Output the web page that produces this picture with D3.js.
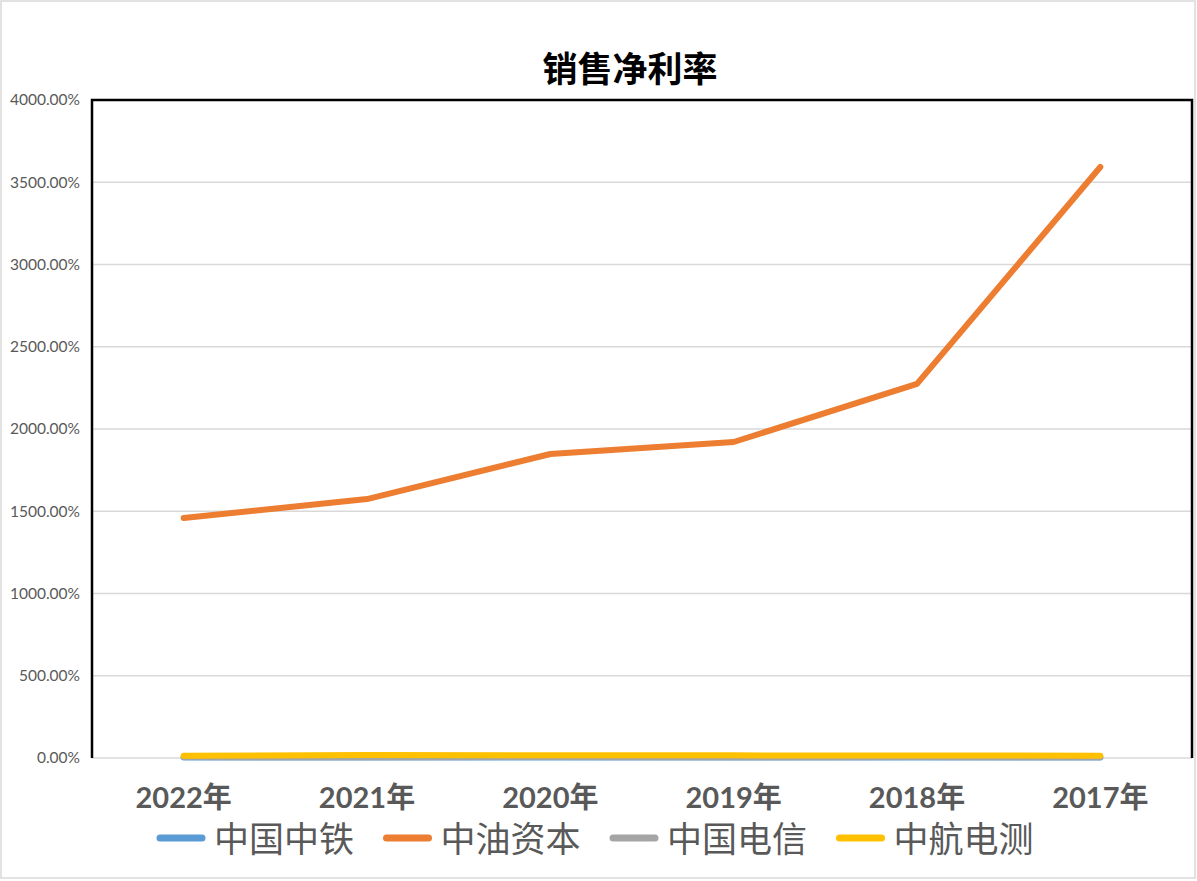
<!DOCTYPE html>
<html><head><meta charset="utf-8">
<script src="https://cdn.jsdelivr.net/npm/d3@7/dist/d3.min.js"></script>
<style>body{margin:0;background:#fff;}svg{display:block;}</style>
</head><body>
<svg id="c" width="1197" height="881"></svg>
<script>
const categories = ["2022年","2021年","2020年","2019年","2018年","2017年"];
const seriesNames = ["中国中铁","中油资本","中国电信","中航电测"];
const crcc = [2.8, 2.9, 2.9, 2.9, 2.7, 2.5];
const cnpcCap = [1459, 1574, 1848, 1921, 2274, 3593];
const chinaTel = [5.5, 4.8, 5.9, 5.3, 5.4, 5.2];
const avic = [13, 18, 17, 16, 15, 14];
const colors = ["#5b9bd5","#ed7d31","#a5a5a5","#ffc000"];
const yTicks = [0,500,1000,1500,2000,2500,3000,3500,4000];
const title = "销售净利率";

const series = [crcc, cnpcCap, chinaTel, avic];
const svg = d3.select("#c");
const L = 92, R = 1192, T = 100, B = 758;

svg.append("rect").attr("x",1).attr("y",1).attr("width",1194).attr("height",877)
  .attr("fill","#fff").attr("stroke","#d9d9d9").attr("stroke-width",1.5);

const x = d3.scaleBand().domain(categories).range([L,R]);
const y = d3.scaleLinear().domain([0,4000]).range([B,T]);

// gridlines
svg.append("g").selectAll("line").data(yTicks).join("line")
  .attr("x1",L).attr("x2",R).attr("y1",d=>y(d)).attr("y2",d=>y(d))
  .attr("stroke","#d9d9d9").attr("stroke-width",1.5);

// frame: top, left, right black
svg.append("path").attr("d",`M${L},${B}V${T}H${R}V${B}`).attr("fill","none")
  .attr("stroke","#000").attr("stroke-width",2.5);

// y axis labels
const yAxis = d3.axisLeft(y).tickValues(yTicks).tickSize(0).tickPadding(12)
  .tickFormat(d=>d.toFixed(2)+"%");
const ga = svg.append("g").attr("transform",`translate(${L},0)`).call(yAxis);
ga.select(".domain").remove();
ga.selectAll("text").attr("font-family","Lato, 'Open Sans', sans-serif").attr("font-size",15.5).attr("fill","#595959");

// x axis labels
const xAxis = d3.axisBottom(x).tickSize(0).tickPadding(29);
const gx = svg.append("g").attr("transform",`translate(0,${B})`).call(xAxis);
gx.select(".domain").remove();
gx.selectAll("text").attr("font-family","Lato, 'Noto Sans CJK SC', sans-serif").attr("font-size",29)
  .attr("font-weight","bold").attr("fill","#595959");

// lines
const line = d3.line().x((d,i)=>x(categories[i])+x.bandwidth()/2).y(d=>y(d));
series.forEach((s,i)=>{
  svg.append("path").datum(s).attr("d",line).attr("fill","none")
    .attr("stroke",colors[i]).attr("stroke-width",6)
    .attr("stroke-linecap","round").attr("stroke-linejoin","round");
});

// title
svg.append("text").attr("x",630).attr("y",82).attr("text-anchor","middle")
  .attr("font-family","'Noto Sans CJK SC', sans-serif").attr("font-size",35).attr("font-weight","bold")
  .attr("fill","#000").text(title);

// legend
const lg = svg.append("g");
seriesNames.forEach((n,i)=>{
  const x0 = 160 + i*226.5;
  lg.append("line").attr("x1",x0).attr("x2",x0+42).attr("y1",838).attr("y2",838)
    .attr("stroke",colors[i]).attr("stroke-width",7).attr("stroke-linecap","round");
  lg.append("text").attr("x",x0+54).attr("y",852).attr("font-family","'Noto Sans CJK SC', sans-serif")
    .attr("font-size",35).attr("fill","#595959").text(n);
});
</script>
</body></html>
